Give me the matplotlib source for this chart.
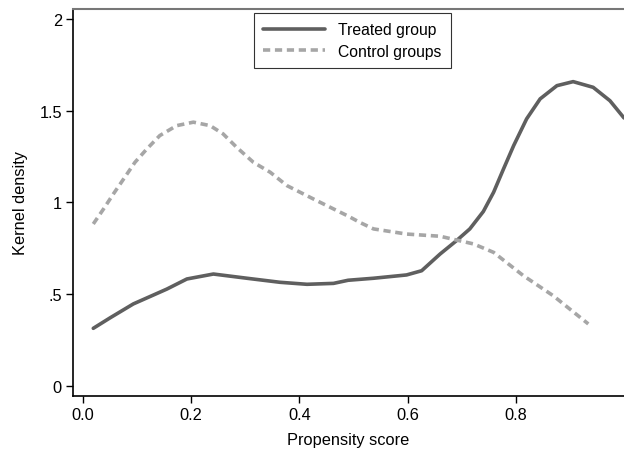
import matplotlib.pyplot as plt

plt.rcParams['font.family'] = ['Liberation Sans', 'DejaVu Sans']

# kernel density estimates
treated_x = [0.019, 0.05, 0.093, 0.155, 0.192, 0.241, 0.303, 0.364, 0.414,
             0.463, 0.49, 0.537, 0.598, 0.626, 0.660, 0.690, 0.715, 0.740,
             0.759, 0.777, 0.796, 0.820, 0.845, 0.876, 0.906, 0.943, 0.974,
             1.0]
treated_y = [0.313, 0.37, 0.446, 0.527, 0.582, 0.609, 0.586, 0.564, 0.553,
             0.558, 0.575, 0.586, 0.604, 0.627, 0.718, 0.79, 0.855, 0.95,
             1.055, 1.18, 1.309, 1.455, 1.564, 1.636, 1.658, 1.627, 1.554,
             1.46]

control_x = [0.019, 0.038, 0.056, 0.075, 0.096, 0.118, 0.142, 0.173, 0.204,
             0.235, 0.259, 0.284, 0.315, 0.346, 0.377, 0.426, 0.463, 0.49,
             0.512, 0.537, 0.598, 0.660, 0.722, 0.759, 0.814, 0.869, 0.934]
control_y = [0.882, 0.964, 1.045, 1.127, 1.218, 1.291, 1.364, 1.418, 1.437,
             1.418, 1.373, 1.30, 1.218, 1.164, 1.091, 1.018, 0.964, 0.925,
             0.89, 0.855, 0.827, 0.815, 0.773, 0.727, 0.60, 0.491, 0.337]

xticks = [0.0, 0.2, 0.4, 0.6, 0.8]
yticks = [0, 0.5, 1, 1.5, 2]
ytick_labels = ['0', '.5', '1', '1.5', '2']

fig = plt.figure(figsize=(6.24, 4.52), dpi=100)
ax = fig.add_axes([73 / 624, 55 / 452, 551 / 624, 387 / 452])

ax.plot(treated_x, treated_y, color='#5f5f5f', lw=2.6,
        solid_capstyle='round', solid_joinstyle='round',
        label='Treated group')
ax.plot(control_x, control_y, color='#a6a6a6', lw=2.6,
        dashes=(2.0, 1.3), label='Control groups')

ax.set_xlim(-0.0185, 1.0)
ax.set_ylim(-0.056, 2.054)
ax.set_xticks(xticks)
ax.set_xticklabels(['%.1f' % t for t in xticks])
ax.set_yticks(yticks)
ax.set_yticklabels(ytick_labels)
ax.tick_params(direction='out', length=5, width=1, labelsize=11.8,
               color='black', pad=3)

ax.spines['top'].set_color('#777777')
ax.spines['top'].set_linewidth(1.5)
ax.spines['right'].set_visible(False)
for s in ('left', 'bottom'):
    ax.spines[s].set_linewidth(1.2)
    ax.spines[s].set_color('black')

ax.set_xlabel('Propensity score', fontsize=11.8, labelpad=7)
ax.set_ylabel('Kernel density', fontsize=11.8, labelpad=8)

leg = ax.legend(loc='upper center', bbox_to_anchor=(0.507, 0.99),
                fontsize=11.3, frameon=True, fancybox=False,
                handlelength=3.9, borderpad=0.6, labelspacing=0.42,
                handletextpad=0.85, borderaxespad=0)
leg.get_frame().set_edgecolor('black')
leg.get_frame().set_linewidth(0.8)

fig.savefig('out.png', dpi=100)
